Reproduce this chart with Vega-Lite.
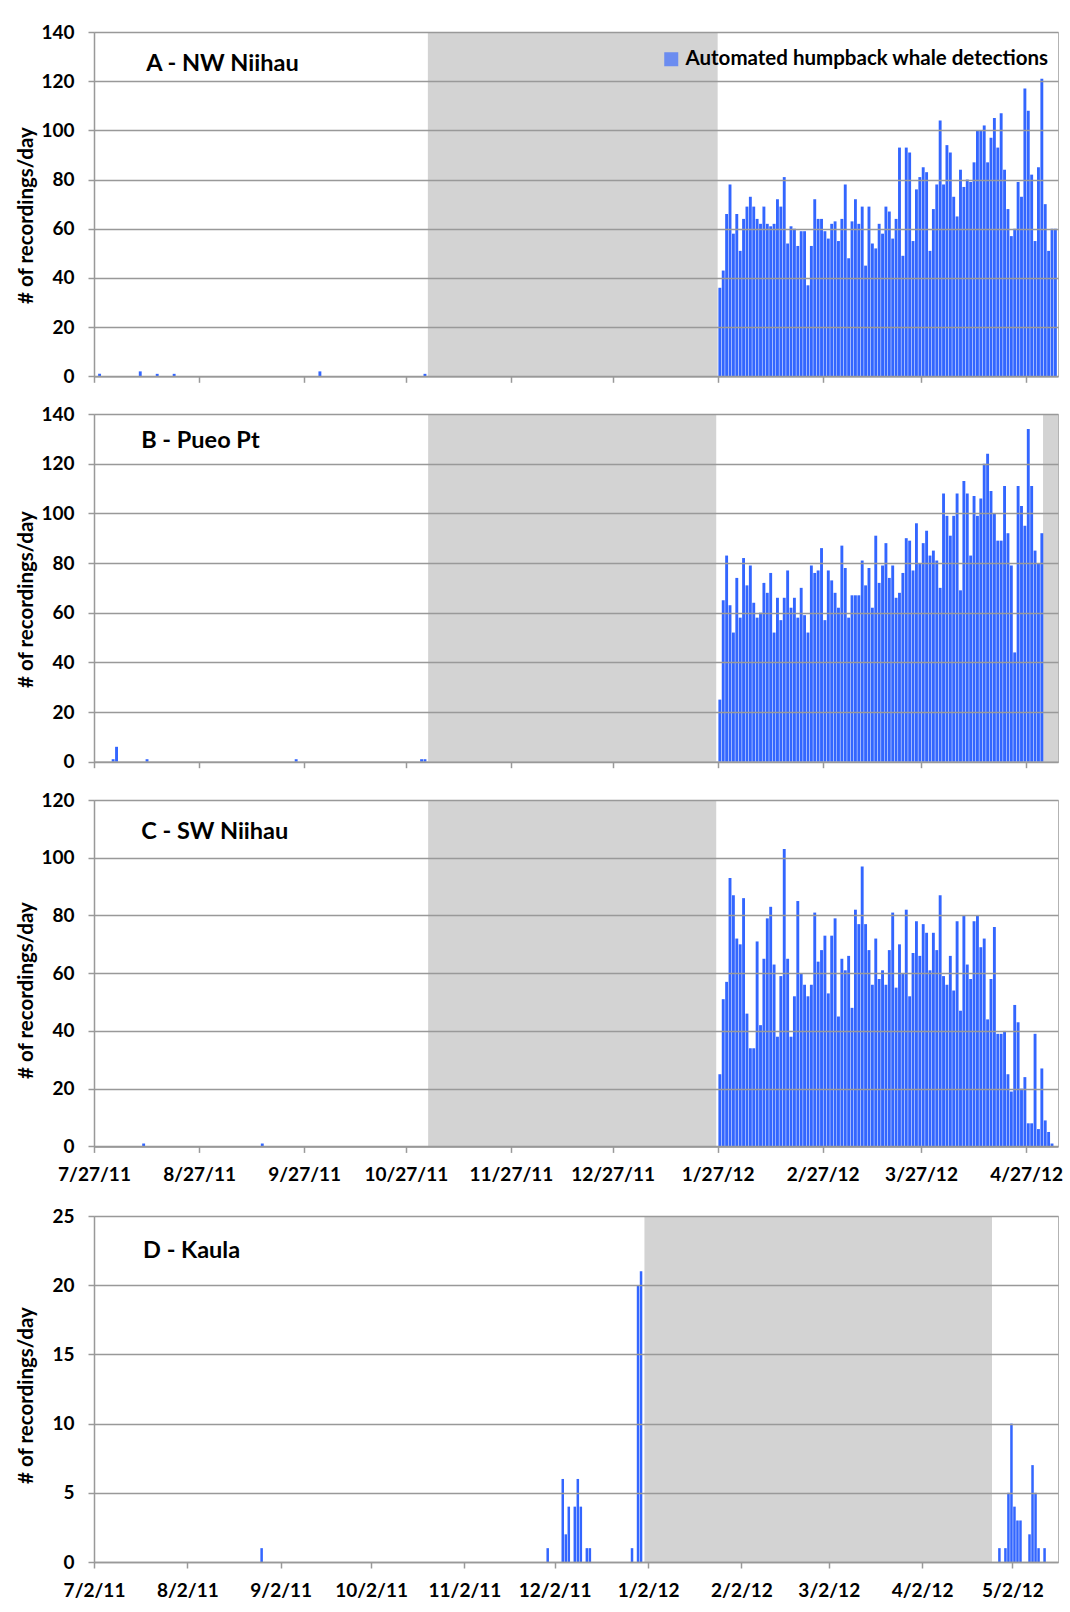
{
  "$schema": "https://vega.github.io/schema/vega-lite/v6.json",
  "background": "white",
  "padding": {"left": 15, "top": 22, "right": 10, "bottom": 10},
  "config": {
    "font": "Lato",
    "view": {"stroke": "#b3b3b3", "strokeWidth": 1},
    "axis": {
      "labelFont": "Lato", "labelFontWeight": "bold", "labelFontSize": 19, "labelColor": "#000",
      "titleFont": "Lato", "titleFontWeight": "bold", "titleFontSize": 20.5, "titleColor": "#000",
      "domainColor": "#999999", "domainWidth": 1.5, "tickColor": "#999999", "tickWidth": 1.5,
      "gridColor": "#999999", "gridWidth": 1.5, "gridOpacity": 1
    }
  },
  "datasets": {
    "A": [
      {"date": "2011-07-28", "count": 1}, {"date": "2011-08-09", "count": 2}, {"date": "2011-08-14", "count": 1},
      {"date": "2011-08-19", "count": 1}, {"date": "2011-10-01", "count": 2}, {"date": "2011-11-01", "count": 1},
      {"date": "2012-01-27", "count": 36}, {"date": "2012-01-28", "count": 43}, {"date": "2012-01-29", "count": 66},
      {"date": "2012-01-30", "count": 78}, {"date": "2012-01-31", "count": 58}, {"date": "2012-02-01", "count": 66},
      {"date": "2012-02-02", "count": 51}, {"date": "2012-02-03", "count": 64}, {"date": "2012-02-04", "count": 69},
      {"date": "2012-02-05", "count": 73}, {"date": "2012-02-06", "count": 69}, {"date": "2012-02-07", "count": 64},
      {"date": "2012-02-08", "count": 62}, {"date": "2012-02-09", "count": 69}, {"date": "2012-02-10", "count": 62},
      {"date": "2012-02-11", "count": 61}, {"date": "2012-02-12", "count": 62}, {"date": "2012-02-13", "count": 72},
      {"date": "2012-02-14", "count": 69}, {"date": "2012-02-15", "count": 81}, {"date": "2012-02-16", "count": 54},
      {"date": "2012-02-17", "count": 61}, {"date": "2012-02-18", "count": 60}, {"date": "2012-02-19", "count": 53},
      {"date": "2012-02-20", "count": 59}, {"date": "2012-02-21", "count": 59}, {"date": "2012-02-22", "count": 37},
      {"date": "2012-02-23", "count": 53}, {"date": "2012-02-24", "count": 72}, {"date": "2012-02-25", "count": 64},
      {"date": "2012-02-26", "count": 64}, {"date": "2012-02-27", "count": 59}, {"date": "2012-02-28", "count": 56},
      {"date": "2012-02-29", "count": 62}, {"date": "2012-03-01", "count": 63}, {"date": "2012-03-02", "count": 55},
      {"date": "2012-03-03", "count": 64}, {"date": "2012-03-04", "count": 78}, {"date": "2012-03-05", "count": 48},
      {"date": "2012-03-06", "count": 63}, {"date": "2012-03-07", "count": 72}, {"date": "2012-03-08", "count": 62},
      {"date": "2012-03-09", "count": 69}, {"date": "2012-03-10", "count": 45}, {"date": "2012-03-11", "count": 69},
      {"date": "2012-03-12", "count": 54}, {"date": "2012-03-13", "count": 52}, {"date": "2012-03-14", "count": 62},
      {"date": "2012-03-15", "count": 58}, {"date": "2012-03-16", "count": 69}, {"date": "2012-03-17", "count": 67},
      {"date": "2012-03-18", "count": 56}, {"date": "2012-03-19", "count": 64}, {"date": "2012-03-20", "count": 93},
      {"date": "2012-03-21", "count": 49}, {"date": "2012-03-22", "count": 93}, {"date": "2012-03-23", "count": 91},
      {"date": "2012-03-24", "count": 55}, {"date": "2012-03-25", "count": 76}, {"date": "2012-03-26", "count": 81},
      {"date": "2012-03-27", "count": 85}, {"date": "2012-03-28", "count": 83}, {"date": "2012-03-29", "count": 51},
      {"date": "2012-03-30", "count": 68}, {"date": "2012-03-31", "count": 78}, {"date": "2012-04-01", "count": 104},
      {"date": "2012-04-02", "count": 78}, {"date": "2012-04-03", "count": 94}, {"date": "2012-04-04", "count": 91},
      {"date": "2012-04-05", "count": 73}, {"date": "2012-04-06", "count": 65}, {"date": "2012-04-07", "count": 84},
      {"date": "2012-04-08", "count": 77}, {"date": "2012-04-09", "count": 80}, {"date": "2012-04-10", "count": 79},
      {"date": "2012-04-11", "count": 87}, {"date": "2012-04-12", "count": 100}, {"date": "2012-04-13", "count": 100},
      {"date": "2012-04-14", "count": 102}, {"date": "2012-04-15", "count": 87}, {"date": "2012-04-16", "count": 97},
      {"date": "2012-04-17", "count": 105}, {"date": "2012-04-18", "count": 93}, {"date": "2012-04-19", "count": 107},
      {"date": "2012-04-20", "count": 84}, {"date": "2012-04-21", "count": 68}, {"date": "2012-04-22", "count": 57},
      {"date": "2012-04-23", "count": 60}, {"date": "2012-04-24", "count": 79}, {"date": "2012-04-25", "count": 73},
      {"date": "2012-04-26", "count": 117}, {"date": "2012-04-27", "count": 108}, {"date": "2012-04-28", "count": 82},
      {"date": "2012-04-29", "count": 55}, {"date": "2012-04-30", "count": 85}, {"date": "2012-05-01", "count": 121},
      {"date": "2012-05-02", "count": 70}, {"date": "2012-05-03", "count": 51}, {"date": "2012-05-04", "count": 60},
      {"date": "2012-05-05", "count": 60}
    ],
    "B": [
      {"date": "2011-08-01", "count": 1}, {"date": "2011-08-02", "count": 6}, {"date": "2011-08-11", "count": 1},
      {"date": "2011-09-24", "count": 1}, {"date": "2011-10-31", "count": 1}, {"date": "2011-11-01", "count": 1},
      {"date": "2012-01-27", "count": 25}, {"date": "2012-01-28", "count": 65}, {"date": "2012-01-29", "count": 83},
      {"date": "2012-01-30", "count": 63}, {"date": "2012-01-31", "count": 52}, {"date": "2012-02-01", "count": 74},
      {"date": "2012-02-02", "count": 58}, {"date": "2012-02-03", "count": 82}, {"date": "2012-02-04", "count": 71},
      {"date": "2012-02-05", "count": 79}, {"date": "2012-02-06", "count": 64}, {"date": "2012-02-07", "count": 58},
      {"date": "2012-02-08", "count": 60}, {"date": "2012-02-09", "count": 72}, {"date": "2012-02-10", "count": 68},
      {"date": "2012-02-11", "count": 76}, {"date": "2012-02-12", "count": 52}, {"date": "2012-02-13", "count": 66},
      {"date": "2012-02-14", "count": 57}, {"date": "2012-02-15", "count": 66}, {"date": "2012-02-16", "count": 77},
      {"date": "2012-02-17", "count": 62}, {"date": "2012-02-18", "count": 66}, {"date": "2012-02-19", "count": 58},
      {"date": "2012-02-20", "count": 70}, {"date": "2012-02-21", "count": 59}, {"date": "2012-02-22", "count": 52},
      {"date": "2012-02-23", "count": 79}, {"date": "2012-02-24", "count": 76}, {"date": "2012-02-25", "count": 77},
      {"date": "2012-02-26", "count": 86}, {"date": "2012-02-27", "count": 57}, {"date": "2012-02-28", "count": 77},
      {"date": "2012-02-29", "count": 73}, {"date": "2012-03-01", "count": 68}, {"date": "2012-03-02", "count": 62},
      {"date": "2012-03-03", "count": 87}, {"date": "2012-03-04", "count": 78}, {"date": "2012-03-05", "count": 58},
      {"date": "2012-03-06", "count": 67}, {"date": "2012-03-07", "count": 67}, {"date": "2012-03-08", "count": 67},
      {"date": "2012-03-09", "count": 81}, {"date": "2012-03-10", "count": 71}, {"date": "2012-03-11", "count": 78},
      {"date": "2012-03-12", "count": 62}, {"date": "2012-03-13", "count": 91}, {"date": "2012-03-14", "count": 72},
      {"date": "2012-03-15", "count": 79}, {"date": "2012-03-16", "count": 88}, {"date": "2012-03-17", "count": 74},
      {"date": "2012-03-18", "count": 79}, {"date": "2012-03-19", "count": 66}, {"date": "2012-03-20", "count": 68},
      {"date": "2012-03-21", "count": 76}, {"date": "2012-03-22", "count": 90}, {"date": "2012-03-23", "count": 89},
      {"date": "2012-03-24", "count": 77}, {"date": "2012-03-25", "count": 96}, {"date": "2012-03-26", "count": 80},
      {"date": "2012-03-27", "count": 88}, {"date": "2012-03-28", "count": 93}, {"date": "2012-03-29", "count": 83},
      {"date": "2012-03-30", "count": 85}, {"date": "2012-03-31", "count": 81}, {"date": "2012-04-01", "count": 70},
      {"date": "2012-04-02", "count": 108}, {"date": "2012-04-03", "count": 99}, {"date": "2012-04-04", "count": 91},
      {"date": "2012-04-05", "count": 99}, {"date": "2012-04-06", "count": 108}, {"date": "2012-04-07", "count": 69},
      {"date": "2012-04-08", "count": 113}, {"date": "2012-04-09", "count": 108}, {"date": "2012-04-10", "count": 83},
      {"date": "2012-04-11", "count": 107}, {"date": "2012-04-12", "count": 99}, {"date": "2012-04-13", "count": 106},
      {"date": "2012-04-14", "count": 120}, {"date": "2012-04-15", "count": 124}, {"date": "2012-04-16", "count": 109},
      {"date": "2012-04-17", "count": 100}, {"date": "2012-04-18", "count": 89}, {"date": "2012-04-19", "count": 89},
      {"date": "2012-04-20", "count": 111}, {"date": "2012-04-21", "count": 92}, {"date": "2012-04-22", "count": 79},
      {"date": "2012-04-23", "count": 44}, {"date": "2012-04-24", "count": 111}, {"date": "2012-04-25", "count": 103},
      {"date": "2012-04-26", "count": 95}, {"date": "2012-04-27", "count": 134}, {"date": "2012-04-28", "count": 111},
      {"date": "2012-04-29", "count": 85}, {"date": "2012-04-30", "count": 80}, {"date": "2012-05-01", "count": 92}
    ],
    "C": [
      {"date": "2011-08-10", "count": 1}, {"date": "2011-09-14", "count": 1},
      {"date": "2012-01-27", "count": 25}, {"date": "2012-01-28", "count": 51}, {"date": "2012-01-29", "count": 57},
      {"date": "2012-01-30", "count": 93}, {"date": "2012-01-31", "count": 87}, {"date": "2012-02-01", "count": 72},
      {"date": "2012-02-02", "count": 70}, {"date": "2012-02-03", "count": 86}, {"date": "2012-02-04", "count": 46},
      {"date": "2012-02-05", "count": 34}, {"date": "2012-02-06", "count": 34}, {"date": "2012-02-07", "count": 71},
      {"date": "2012-02-08", "count": 42}, {"date": "2012-02-09", "count": 65}, {"date": "2012-02-10", "count": 79},
      {"date": "2012-02-11", "count": 83}, {"date": "2012-02-12", "count": 63}, {"date": "2012-02-13", "count": 38},
      {"date": "2012-02-14", "count": 59}, {"date": "2012-02-15", "count": 103}, {"date": "2012-02-16", "count": 65},
      {"date": "2012-02-17", "count": 38}, {"date": "2012-02-18", "count": 52}, {"date": "2012-02-19", "count": 85},
      {"date": "2012-02-20", "count": 60}, {"date": "2012-02-21", "count": 56}, {"date": "2012-02-22", "count": 52},
      {"date": "2012-02-23", "count": 56}, {"date": "2012-02-24", "count": 81}, {"date": "2012-02-25", "count": 64},
      {"date": "2012-02-26", "count": 68}, {"date": "2012-02-27", "count": 73}, {"date": "2012-02-28", "count": 53},
      {"date": "2012-02-29", "count": 73}, {"date": "2012-03-01", "count": 79}, {"date": "2012-03-02", "count": 45},
      {"date": "2012-03-03", "count": 65}, {"date": "2012-03-04", "count": 61}, {"date": "2012-03-05", "count": 66},
      {"date": "2012-03-06", "count": 48}, {"date": "2012-03-07", "count": 82}, {"date": "2012-03-08", "count": 77},
      {"date": "2012-03-09", "count": 97}, {"date": "2012-03-10", "count": 77}, {"date": "2012-03-11", "count": 68},
      {"date": "2012-03-12", "count": 56}, {"date": "2012-03-13", "count": 72}, {"date": "2012-03-14", "count": 58},
      {"date": "2012-03-15", "count": 61}, {"date": "2012-03-16", "count": 56}, {"date": "2012-03-17", "count": 68},
      {"date": "2012-03-18", "count": 81}, {"date": "2012-03-19", "count": 55}, {"date": "2012-03-20", "count": 70},
      {"date": "2012-03-21", "count": 60}, {"date": "2012-03-22", "count": 82}, {"date": "2012-03-23", "count": 52},
      {"date": "2012-03-24", "count": 67}, {"date": "2012-03-25", "count": 78}, {"date": "2012-03-26", "count": 66},
      {"date": "2012-03-27", "count": 77}, {"date": "2012-03-28", "count": 74}, {"date": "2012-03-29", "count": 61},
      {"date": "2012-03-30", "count": 74}, {"date": "2012-03-31", "count": 68}, {"date": "2012-04-01", "count": 87},
      {"date": "2012-04-02", "count": 59}, {"date": "2012-04-03", "count": 56}, {"date": "2012-04-04", "count": 66},
      {"date": "2012-04-05", "count": 54}, {"date": "2012-04-06", "count": 78}, {"date": "2012-04-07", "count": 47},
      {"date": "2012-04-08", "count": 80}, {"date": "2012-04-09", "count": 63}, {"date": "2012-04-10", "count": 58},
      {"date": "2012-04-11", "count": 78}, {"date": "2012-04-12", "count": 80}, {"date": "2012-04-13", "count": 69},
      {"date": "2012-04-14", "count": 72}, {"date": "2012-04-15", "count": 44}, {"date": "2012-04-16", "count": 58},
      {"date": "2012-04-17", "count": 76}, {"date": "2012-04-18", "count": 39}, {"date": "2012-04-19", "count": 39},
      {"date": "2012-04-20", "count": 40}, {"date": "2012-04-21", "count": 25}, {"date": "2012-04-22", "count": 19},
      {"date": "2012-04-23", "count": 49}, {"date": "2012-04-24", "count": 43}, {"date": "2012-04-25", "count": 20},
      {"date": "2012-04-26", "count": 24}, {"date": "2012-04-27", "count": 8}, {"date": "2012-04-28", "count": 8},
      {"date": "2012-04-29", "count": 39}, {"date": "2012-04-30", "count": 6}, {"date": "2012-05-01", "count": 27},
      {"date": "2012-05-02", "count": 9}, {"date": "2012-05-03", "count": 5}, {"date": "2012-05-04", "count": 1}
    ],
    "D": [
      {"date": "2011-08-26", "count": 1}, {"date": "2011-11-29", "count": 1}, {"date": "2011-12-04", "count": 6},
      {"date": "2011-12-05", "count": 2}, {"date": "2011-12-06", "count": 4}, {"date": "2011-12-08", "count": 4},
      {"date": "2011-12-09", "count": 6}, {"date": "2011-12-10", "count": 4}, {"date": "2011-12-12", "count": 1},
      {"date": "2011-12-13", "count": 1}, {"date": "2011-12-27", "count": 1}, {"date": "2011-12-29", "count": 20},
      {"date": "2011-12-30", "count": 21}, {"date": "2012-04-27", "count": 1}, {"date": "2012-04-29", "count": 1},
      {"date": "2012-04-30", "count": 5}, {"date": "2012-05-01", "count": 10}, {"date": "2012-05-02", "count": 4},
      {"date": "2012-05-03", "count": 3}, {"date": "2012-05-04", "count": 3}, {"date": "2012-05-07", "count": 2},
      {"date": "2012-05-08", "count": 7}, {"date": "2012-05-09", "count": 5}, {"date": "2012-05-10", "count": 1},
      {"date": "2012-05-12", "count": 1}
    ],
    "gapA": [{"start": "2011-11-02T12:00:00Z", "end": "2012-01-27T00:00:00Z"}],
    "gapB": [{"start": "2011-11-02T14:00:00Z", "end": "2012-01-26T14:00:00Z"}, {"start": "2012-05-02T00:00:00Z", "end": "2012-05-06T10:00:00Z"}],
    "gapC": [{"start": "2011-11-02T14:00:00Z", "end": "2012-01-26T14:00:00Z"}],
    "gapD": [{"start": "2011-12-31T19:00:00Z", "end": "2012-04-25T05:00:00Z"}]
  },
  "vconcat": [
    {
      "vconcat": [
        {
          "width": 964, "height": 344.3,
          "layer": [
            {
              "data": {"name": "gapA"},
              "mark": {"type": "rect", "color": "#d3d3d3"},
              "encoding": {
                "x": {"field": "start", "type": "temporal",
                  "scale": {"type": "utc", "domain": [{"year": 2011, "month": 7, "date": 27, "utc": true}, {"year": 2012, "month": 5, "date": 6, "hours": 10, "utc": true}]},
                  "axis": {"title": null, "labels": false, "grid": false, "tickSize": 6, "zindex": 1,
                    "values": [{"year": 2011, "month": 7, "date": 27, "utc": true}, {"year": 2011, "month": 8, "date": 27, "utc": true}, {"year": 2011, "month": 9, "date": 27, "utc": true}, {"year": 2011, "month": 10, "date": 27, "utc": true}, {"year": 2011, "month": 11, "date": 27, "utc": true}, {"year": 2011, "month": 12, "date": 27, "utc": true}, {"year": 2012, "month": 1, "date": 27, "utc": true}, {"year": 2012, "month": 2, "date": 27, "utc": true}, {"year": 2012, "month": 3, "date": 27, "utc": true}, {"year": 2012, "month": 4, "date": 27, "utc": true}]}},
                "x2": {"field": "end"}
              }
            },
            {
              "data": {"name": "A"},
              "mark": {"type": "bar", "binSpacing": 0.5},
              "encoding": {
                "x": {"field": "date", "type": "temporal", "timeUnit": "utcyearmonthdate", "axis": {"title": null}},
                "y": {"field": "count", "type": "quantitative", "scale": {"domain": [0, 140], "nice": false},
                  "axis": {"title": "# of recordings/day", "titleY": 183, "values": [0, 20, 40, 60, 80, 100, 120, 140], "tickSize": 6, "labelPadding": 14, "titlePadding": 4, "grid": true, "zindex": 1}},
                "color": {"datum": "Automated humpback whale detections", "scale": {"range": ["#3366ff"]},
                  "legend": {"orient": "none", "legendX": 564, "legendY": 14, "title": null, "padding": 3, "symbolType": "square", "symbolSize": 196, "symbolStrokeWidth": 0, "symbolOpacity": 0.65, "labelFont": "Lato", "labelFontWeight": "bold", "labelFontSize": 20.5, "labelColor": "#000", "labelLimit": 600, "labelOffset": 4}}
              }
            },
            {
              "data": {"values": [{}]},
              "mark": {"type": "text", "font": "Lato", "fontWeight": "bold", "fontSize": 23.5, "align": "left", "baseline": "alphabetic", "color": "#000"},
              "encoding": {
                "x": {"datum": {"year": 2011, "month": 8, "date": 11, "hours": 10, "utc": true}, "type": "temporal"},
                "y": {"datum": 124.2, "type": "quantitative"},
                "text": {"value": "A - NW Niihau"}
              }
            }
          ]
        },
        {
          "width": 964, "height": 347.7,
          "layer": [
            {
              "data": {"name": "gapB"},
              "mark": {"type": "rect", "color": "#d3d3d3"},
              "encoding": {
                "x": {"field": "start", "type": "temporal",
                  "scale": {"type": "utc", "domain": [{"year": 2011, "month": 7, "date": 27, "utc": true}, {"year": 2012, "month": 5, "date": 6, "hours": 10, "utc": true}]},
                  "axis": {"title": null, "labels": false, "grid": false, "tickSize": 6, "zindex": 1,
                    "values": [{"year": 2011, "month": 7, "date": 27, "utc": true}, {"year": 2011, "month": 8, "date": 27, "utc": true}, {"year": 2011, "month": 9, "date": 27, "utc": true}, {"year": 2011, "month": 10, "date": 27, "utc": true}, {"year": 2011, "month": 11, "date": 27, "utc": true}, {"year": 2011, "month": 12, "date": 27, "utc": true}, {"year": 2012, "month": 1, "date": 27, "utc": true}, {"year": 2012, "month": 2, "date": 27, "utc": true}, {"year": 2012, "month": 3, "date": 27, "utc": true}, {"year": 2012, "month": 4, "date": 27, "utc": true}]}},
                "x2": {"field": "end"}
              }
            },
            {
              "data": {"name": "B"},
              "mark": {"type": "bar", "binSpacing": 0.5, "color": "#3366ff"},
              "encoding": {
                "x": {"field": "date", "type": "temporal", "timeUnit": "utcyearmonthdate", "axis": {"title": null}},
                "y": {"field": "count", "type": "quantitative", "scale": {"domain": [0, 140], "nice": false},
                  "axis": {"title": "# of recordings/day", "titleY": 185, "values": [0, 20, 40, 60, 80, 100, 120, 140], "tickSize": 6, "labelPadding": 14, "titlePadding": 4, "grid": true, "zindex": 1}}
              }
            },
            {
              "data": {"values": [{}]},
              "mark": {"type": "text", "font": "Lato", "fontWeight": "bold", "fontSize": 23.5, "align": "left", "baseline": "alphabetic", "color": "#000"},
              "encoding": {
                "x": {"datum": {"year": 2011, "month": 8, "date": 9, "hours": 22, "utc": true}, "type": "temporal"},
                "y": {"datum": 126.5, "type": "quantitative"},
                "text": {"value": "B - Pueo Pt"}
              }
            }
          ]
        },
        {
          "width": 964, "height": 346.4,
          "layer": [
            {
              "data": {"name": "gapC"},
              "mark": {"type": "rect", "color": "#d3d3d3"},
              "encoding": {
                "x": {"field": "start", "type": "temporal",
                  "scale": {"type": "utc", "domain": [{"year": 2011, "month": 7, "date": 27, "utc": true}, {"year": 2012, "month": 5, "date": 6, "hours": 10, "utc": true}]},
                  "axis": {"title": null, "labels": true, "format": "%-m/%-d/%y", "labelFlush": false, "labelOverlap": false, "labelPadding": 13, "grid": false, "tickSize": 6, "zindex": 1,
                    "values": [{"year": 2011, "month": 7, "date": 27, "utc": true}, {"year": 2011, "month": 8, "date": 27, "utc": true}, {"year": 2011, "month": 9, "date": 27, "utc": true}, {"year": 2011, "month": 10, "date": 27, "utc": true}, {"year": 2011, "month": 11, "date": 27, "utc": true}, {"year": 2011, "month": 12, "date": 27, "utc": true}, {"year": 2012, "month": 1, "date": 27, "utc": true}, {"year": 2012, "month": 2, "date": 27, "utc": true}, {"year": 2012, "month": 3, "date": 27, "utc": true}, {"year": 2012, "month": 4, "date": 27, "utc": true}]}},
                "x2": {"field": "end"}
              }
            },
            {
              "data": {"name": "C"},
              "mark": {"type": "bar", "binSpacing": 0.5, "color": "#3366ff"},
              "encoding": {
                "x": {"field": "date", "type": "temporal", "timeUnit": "utcyearmonthdate", "axis": {"title": null}},
                "y": {"field": "count", "type": "quantitative", "scale": {"domain": [0, 120], "nice": false},
                  "axis": {"title": "# of recordings/day", "titleY": 190, "values": [0, 20, 40, 60, 80, 100, 120], "tickSize": 6, "labelPadding": 14, "titlePadding": 4, "grid": true, "zindex": 1}}
              }
            },
            {
              "data": {"values": [{}]},
              "mark": {"type": "text", "font": "Lato", "fontWeight": "bold", "fontSize": 23.5, "align": "left", "baseline": "alphabetic", "color": "#000"},
              "encoding": {
                "x": {"datum": {"year": 2011, "month": 8, "date": 9, "hours": 22, "utc": true}, "type": "temporal"},
                "y": {"datum": 106.5, "type": "quantitative"},
                "text": {"value": "C - SW Niihau"}
              }
            }
          ]
        }
      ],
      "spacing": 17,
      "resolve": {"scale": {"x": "independent", "y": "independent", "color": "independent"}, "axis": {"x": "independent", "y": "independent"}, "legend": {"color": "independent"}}
    },
    {
      "width": 964, "height": 346,
      "layer": [
        {
          "data": {"name": "gapD"},
          "mark": {"type": "rect", "color": "#d3d3d3"},
          "encoding": {
            "x": {"field": "start", "type": "temporal",
              "scale": {"type": "utc", "domain": [{"year": 2011, "month": 7, "date": 2, "utc": true}, {"year": 2012, "month": 5, "date": 17, "hours": 3, "utc": true}]},
              "axis": {"title": null, "labels": true, "format": "%-m/%-d/%y", "labelFlush": false, "labelOverlap": false, "labelPadding": 13, "grid": false, "tickSize": 6, "zindex": 1,
                "values": [{"year": 2011, "month": 7, "date": 2, "utc": true}, {"year": 2011, "month": 8, "date": 2, "utc": true}, {"year": 2011, "month": 9, "date": 2, "utc": true}, {"year": 2011, "month": 10, "date": 2, "utc": true}, {"year": 2011, "month": 11, "date": 2, "utc": true}, {"year": 2011, "month": 12, "date": 2, "utc": true}, {"year": 2012, "month": 1, "date": 2, "utc": true}, {"year": 2012, "month": 2, "date": 2, "utc": true}, {"year": 2012, "month": 3, "date": 2, "utc": true}, {"year": 2012, "month": 4, "date": 2, "utc": true}, {"year": 2012, "month": 5, "date": 2, "utc": true}]}},
            "x2": {"field": "end"}
          }
        },
        {
          "data": {"name": "D"},
          "mark": {"type": "bar", "binSpacing": 0.5, "color": "#3366ff"},
          "encoding": {
            "x": {"field": "date", "type": "temporal", "timeUnit": "utcyearmonthdate", "axis": {"title": null}},
            "y": {"field": "count", "type": "quantitative", "scale": {"domain": [0, 25], "nice": false},
              "axis": {"title": "# of recordings/day", "titleY": 179, "values": [0, 5, 10, 15, 20, 25], "tickSize": 6, "labelPadding": 14, "titlePadding": 15.5, "grid": true, "zindex": 1}}
          }
        },
        {
          "data": {"values": [{}]},
          "mark": {"type": "text", "font": "Lato", "fontWeight": "bold", "fontSize": 23.5, "align": "left", "baseline": "alphabetic", "color": "#000"},
          "encoding": {
            "x": {"datum": {"year": 2011, "month": 7, "date": 18, "hours": 7, "utc": true}, "type": "temporal"},
            "y": {"datum": 22.0, "type": "quantitative"},
            "text": {"value": "D - Kaula"}
          }
        }
      ]
    }
  ],
  "spacing": 21,
  "resolve": {"scale": {"x": "independent", "y": "independent", "color": "independent"}, "axis": {"x": "independent", "y": "independent"}, "legend": {"color": "independent"}}
}
